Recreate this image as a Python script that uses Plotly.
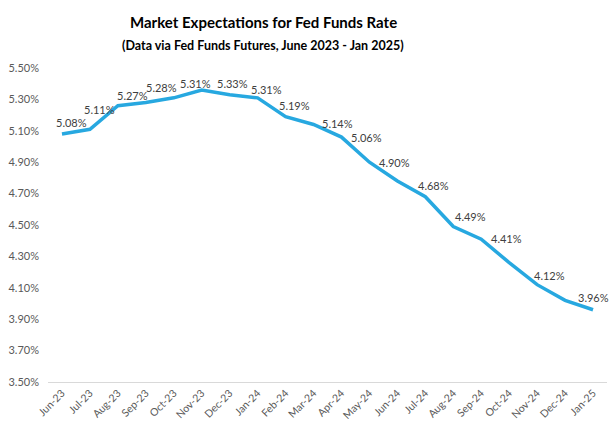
import plotly.graph_objects as go

months = ["Jun-23", "Jul-23", "Aug-23", "Sep-23", "Oct-23", "Nov-23", "Dec-23",
          "Jan-24", "Feb-24", "Mar-24", "Apr-24", "May-24", "Jun-24", "Jul-24",
          "Aug-24", "Sep-24", "Oct-24", "Nov-24", "Dec-24", "Jan-25"]
rates = [5.08, 5.11, 5.26, 5.28, 5.31, 5.36, 5.33, 5.31, 5.19, 5.14,
         5.06, 4.90, 4.78, 4.68, 4.49, 4.41, 4.26, 4.12, 4.02, 3.96]
label_text = ["5.08%", "5.11%", "5.27%", "5.28%", "5.31%", "", "5.33%", "5.31%",
              "5.19%", "5.14%", "5.06%", "4.90%", "", "4.68%", "4.49%", "4.41%",
              "", "4.12%", "", "3.96%"]
y_ticks = [3.5, 3.7, 3.9, 4.1, 4.3, 4.5, 4.7, 4.9, 5.1, 5.3, 5.5]

# label pixel offsets (style only)
label_shift = {
    "Jun-23": (10, 11), "Jul-23": (10, 20), "Aug-23": (15, 10), "Sep-23": (16, 15),
    "Oct-23": (22, 14), "Dec-23": (3, 11), "Jan-24": (9, 8), "Feb-24": (9, 11),
    "Mar-24": (24, 1), "Apr-24": (25, 0), "May-24": (25, 0), "Jul-24": (8, 11),
    "Aug-24": (17, 10), "Sep-24": (25, 1), "Nov-24": (12, 9), "Jan-25": (0, 12),
}

FONT = "Lato"
fig = go.Figure()
fig.add_trace(go.Scatter(
    x=months, y=rates, mode="lines",
    line=dict(color="#27a8e0", width=3.5, shape="linear"),
    hoverinfo="skip", showlegend=False,
))

annotations = []
for m, v, t in zip(months, rates, label_text):
    if not t:
        continue
    dx, dy = label_shift.get(m, (0, 10))
    annotations.append(dict(
        x=m, y=v, xref="x", yref="y", text=t, showarrow=False,
        xshift=dx, yshift=dy, font=dict(family=FONT, size=11, color="#404040"),
    ))

annotations.append(dict(
    x=0.385, y=1.146, xref="paper", yref="paper", showarrow=False,
    text="<b>Market Expectations for Fed Funds Rate</b>",
    font=dict(family=FONT, size=15, color="#000000"), xanchor="center", yanchor="middle",
))
annotations.append(dict(
    x=0.385, y=1.073, xref="paper", yref="paper", showarrow=False,
    text="<b>(Data via Fed Funds Futures, June 2023 - Jan 2025)</b>",
    font=dict(family=FONT, size=12.5, color="#000000"), xanchor="center", yanchor="middle",
))

fig.update_layout(
    width=615, height=428,
    margin=dict(l=48, r=8, t=68, b=46, autoexpand=False),
    paper_bgcolor="white", plot_bgcolor="white",
    annotations=annotations,
    font=dict(family=FONT, size=11, color="#595959"),
)
fig.update_xaxes(
    type="category", range=[-0.5, len(months) - 0.5], automargin=False,
    tickangle=-45, showgrid=False, showline=True, linecolor="#d9d9d9", linewidth=1,
    ticks="", tickfont=dict(family=FONT, size=10.5, color="#595959"),
)
fig.update_yaxes(
    range=[3.5, 5.5], tickvals=y_ticks, automargin=False,
    ticktext=[f"{v:.2f}%" for v in y_ticks],
    showgrid=False, zeroline=False, showline=False, ticks="",
    ticklabelstandoff=8,
    tickfont=dict(family=FONT, size=11, color="#595959"),
)

fig.write_html("out.html", config={"displayModeBar": False},
               post_script="document.body.style.margin='0';document.body.style.overflow='hidden';")
